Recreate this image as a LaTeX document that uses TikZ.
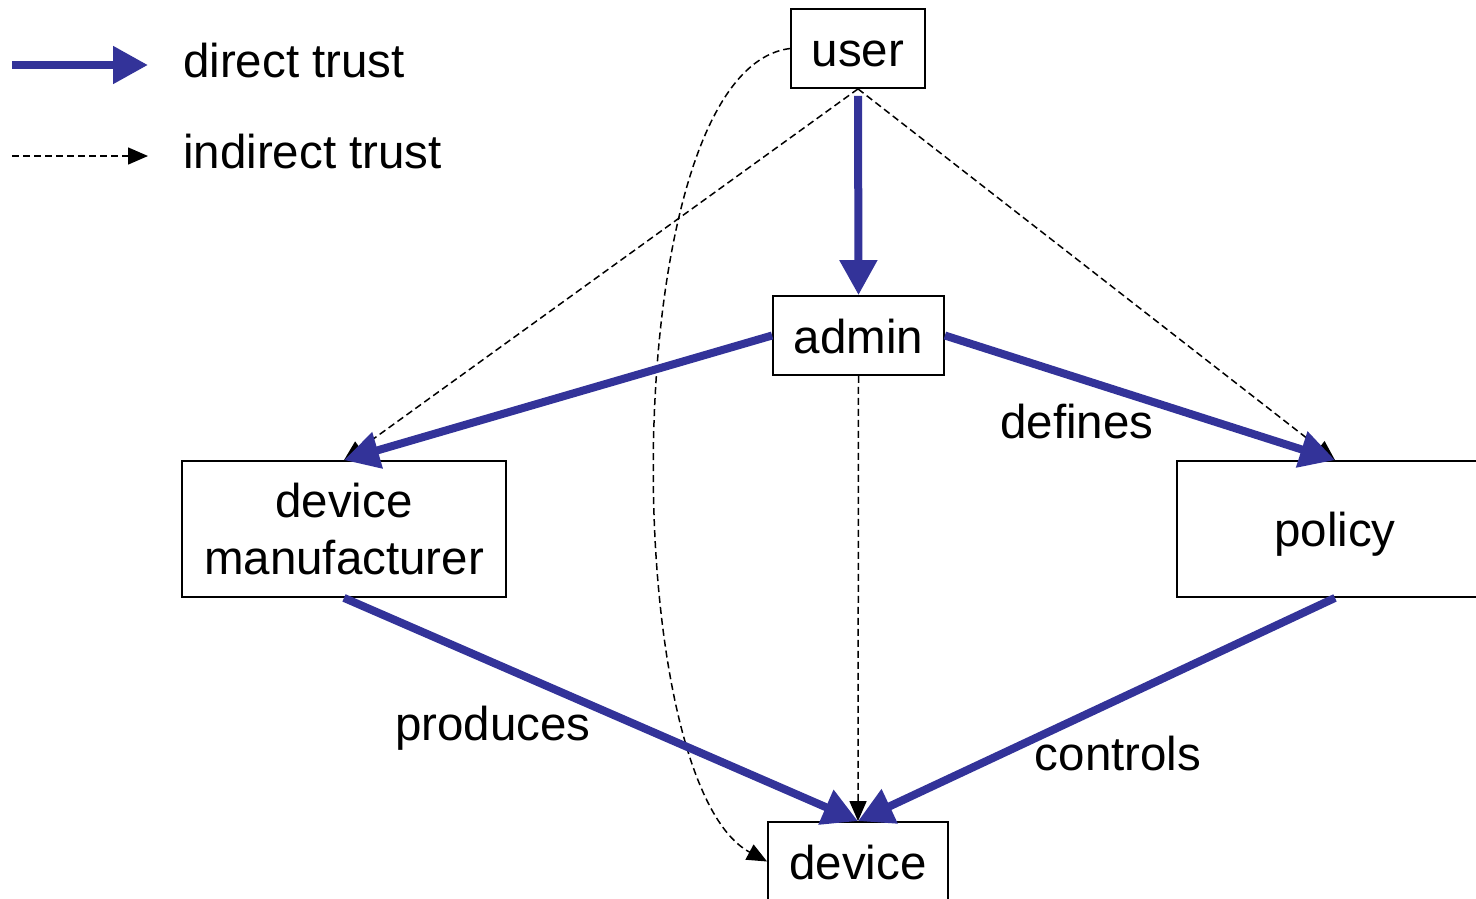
\documentclass[tikz,border=0pt]{standalone}
\usepackage{fontspec}
\setmainfont{Liberation Sans}
\usetikzlibrary{arrows.meta}
\definecolor{trustblue}{RGB}{51,51,153}
\begin{document}
\begin{tikzpicture}[x=1pt,y=-1pt,
  box/.style={draw=black,line width=1.8pt,inner sep=0pt,fill=white,
    font=\fontsize{47.5}{57}\selectfont,align=center},
  oneline/.style={text height=45pt,text depth=9.5pt},
  lbl/.style={font=\fontsize{47.5}{57}\selectfont,inner sep=0pt},
  direct/.style={draw=trustblue,line width=8pt,
    -{Triangle[length=35pt,width=36pt]},color=trustblue},
  indirect/.style={draw=black,line width=1.5pt,dash pattern=on 7pt off 4pt,
    -{Triangle[length=20pt,width=17pt]}}]
\useasboundingbox (0,0) rectangle (1476,898);
% nodes
\node[box,oneline,minimum width=134pt,minimum height=79pt] (user) at (858,48.5) {user};
\node[box,oneline,minimum width=171pt,minimum height=79pt] (admin) at (858.5,335.5) {admin};
\node[box,minimum width=324pt,minimum height=136pt] (dm) at (344,529) {device\\manufacturer};
\node[box,oneline,minimum width=316pt,minimum height=136pt] (policy) at (1335,529) {policy};
\node[box,oneline,minimum width=180pt,minimum height=79pt] (device) at (858,861.5) {device};
% indirect trust
\draw[indirect] (user.south) -- (dm.north);
\draw[indirect] (user.south) -- (policy.north);
\draw[indirect] (admin.south) -- (device.north);
\draw[indirect] (user.west) .. controls (615,70) and (615,780) .. (device.west);
% direct trust
\draw[direct,shorten <=7pt] (user.south) -- (admin.north);
\draw[direct] (admin.west) -- (dm.north);
\draw[direct] (admin.east) -- (policy.north);
\draw[direct] (dm.south) -- (device.north);
\draw[direct] (policy.south) -- (device.north);
% labels
\node[lbl] (ldef) at (1077,422) {defines};
\node[lbl] (lprod) at (493,728) {produces};
\node[lbl] (lctrl) at (1118,754) {controls};
% legend
\coordinate (d0) at (12,65);
\coordinate (d1) at (148,65);
\coordinate (i0) at (12,156);
\coordinate (i1) at (148,156);
\draw[direct] (d0) -- (d1);
\draw[indirect] (i0) -- (i1);
\node[lbl,anchor=base west] (ldirect) at (183,77) {direct trust};
\node[lbl,anchor=base west] (lindirect) at (183,168) {indirect trust};
\end{tikzpicture}
\end{document}
